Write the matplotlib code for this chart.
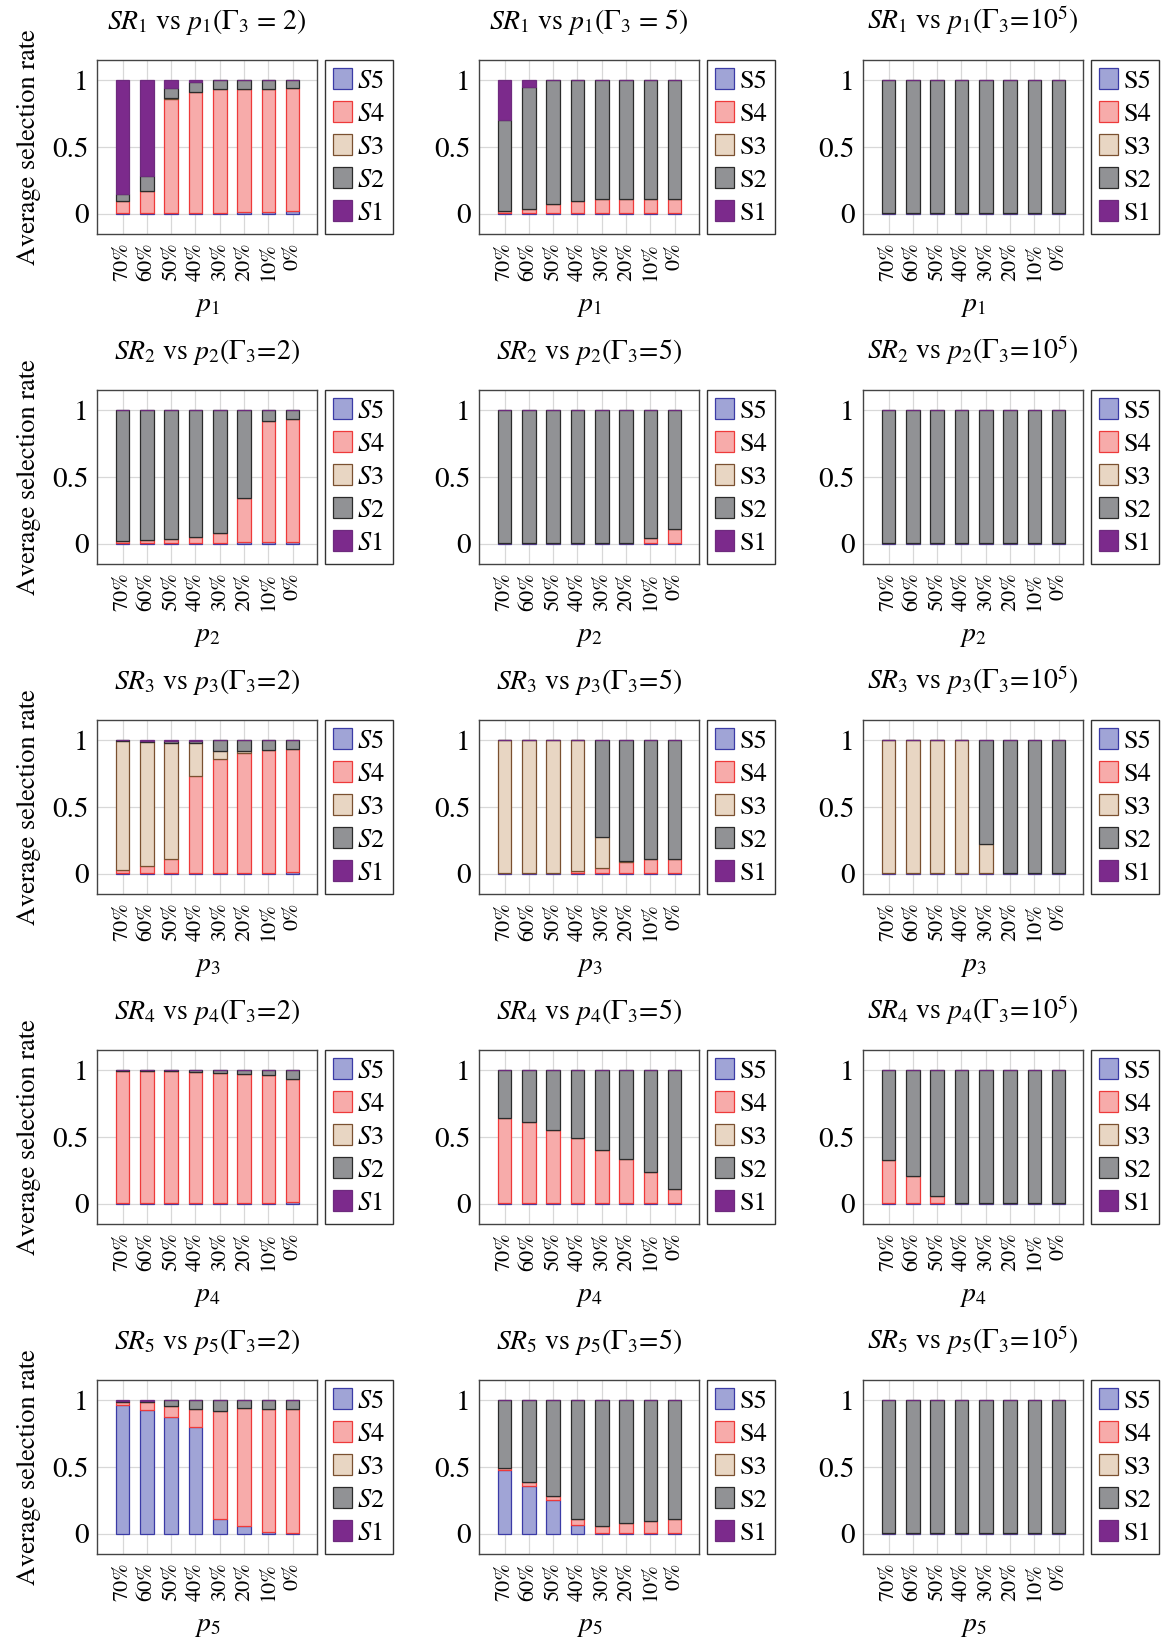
import numpy as np
import matplotlib
matplotlib.use('Agg')
import matplotlib.pyplot as plt

plt.rcParams['font.family'] = 'STIXGeneral'
plt.rcParams['mathtext.fontset'] = 'stix'

cats = ['70%', '60%', '50%', '40%', '30%', '20%', '10%', '0%']
series = ['S5', 'S4', 'S3', 'S2', 'S1']
fills = ['#a0a4d6', '#f7abaa', '#e8d6c3', '#919295', '#7c2a8c']
edges = ['#3b3ba6', '#ee3a3a', '#7a5030', '#2b2b2b', '#6e2a7e']

# each panel: [S5, S4, S3, S2, S1], stacked bottom -> top
sr1_g2 = [[0.005, 0.005, 0.005, 0.005, 0.01, 0.015, 0.015, 0.02],
          [0.095, 0.165, 0.855, 0.905, 0.92, 0.92, 0.92, 0.92],
          [0, 0, 0.005, 0, 0, 0, 0, 0],
          [0.05, 0.11, 0.075, 0.075, 0.07, 0.065, 0.065, 0.06],
          [0.85, 0.72, 0.06, 0.015, 0, 0, 0, 0]]
sr1_g5 = [[0.005] * 8,
          [0.02, 0.035, 0.07, 0.09, 0.105, 0.11, 0.11, 0.11],
          [0] * 8,
          [0.675, 0.91, 0.925, 0.905, 0.89, 0.885, 0.885, 0.885],
          [0.3, 0.05, 0, 0, 0, 0, 0, 0]]
sr1_g1e5 = [[0.005] * 8, [0] * 8, [0] * 8, [0.995] * 8, [0] * 8]

sr2_g2 = [[0.005, 0.005, 0.005, 0.005, 0.01, 0.015, 0.015, 0.015],
          [0.015, 0.025, 0.035, 0.05, 0.07, 0.33, 0.9, 0.92],
          [0] * 8,
          [0.98, 0.97, 0.96, 0.945, 0.92, 0.655, 0.085, 0.065],
          [0] * 8]
sr2_g5 = [[0.005] * 8,
          [0, 0, 0, 0, 0, 0.005, 0.04, 0.11],
          [0] * 8,
          [0.995, 0.995, 0.995, 0.995, 0.995, 0.99, 0.955, 0.885],
          [0] * 8]
sr2_g1e5 = [[0.005] * 8, [0] * 8, [0] * 8, [0.995] * 8, [0] * 8]

sr3_g2 = [[0.005, 0.005, 0.005, 0.005, 0.005, 0.01, 0.01, 0.015],
          [0.025, 0.055, 0.105, 0.725, 0.85, 0.89, 0.915, 0.92],
          [0.965, 0.925, 0.865, 0.245, 0.065, 0.015, 0, 0],
          [0.003, 0.01, 0.02, 0.02, 0.08, 0.085, 0.075, 0.065],
          [0.002, 0.005, 0.005, 0.005, 0, 0, 0, 0]]
sr3_g5 = [[0.005] * 8,
          [0, 0, 0, 0.015, 0.04, 0.085, 0.105, 0.11],
          [0.995, 0.995, 0.995, 0.98, 0.23, 0.01, 0, 0],
          [0, 0, 0, 0, 0.725, 0.9, 0.89, 0.885],
          [0] * 8]
sr3_g1e5 = [[0.005] * 8,
            [0] * 8,
            [0.995, 0.995, 0.995, 0.995, 0.215, 0.005, 0, 0],
            [0, 0, 0, 0, 0.78, 0.99, 0.995, 0.995],
            [0] * 8]

sr4_g2 = [[0.005, 0.005, 0.005, 0.005, 0.005, 0.008, 0.01, 0.015],
          [0.99, 0.985, 0.985, 0.98, 0.97, 0.962, 0.95, 0.92],
          [0, 0, 0, 0, 0.005, 0, 0, 0],
          [0.005, 0.01, 0.01, 0.015, 0.02, 0.03, 0.04, 0.065],
          [0] * 8]
sr4_g5 = [[0.005] * 8,
          [0.635, 0.605, 0.545, 0.485, 0.395, 0.33, 0.23, 0.105],
          [0] * 8,
          [0.36, 0.39, 0.45, 0.51, 0.6, 0.665, 0.765, 0.89],
          [0] * 8]
sr4_g1e5 = [[0.005] * 8,
            [0.325, 0.205, 0.055, 0.005, 0, 0, 0, 0],
            [0] * 8,
            [0.67, 0.79, 0.94, 0.99, 0.995, 0.995, 0.995, 0.995],
            [0] * 8]

sr5_g2 = [[0.965, 0.925, 0.87, 0.8, 0.115, 0.06, 0.015, 0.01],
          [0.02, 0.06, 0.085, 0.13, 0.805, 0.88, 0.915, 0.925],
          [0] * 8,
          [0.01, 0.01, 0.045, 0.07, 0.08, 0.06, 0.07, 0.065],
          [0.005, 0.005, 0, 0, 0, 0, 0, 0]]
sr5_g5 = [[0.48, 0.36, 0.255, 0.07, 0.005, 0.005, 0.005, 0.005],
          [0.015, 0.025, 0.03, 0.04, 0.055, 0.075, 0.09, 0.105],
          [0] * 8,
          [0.505, 0.615, 0.715, 0.89, 0.94, 0.92, 0.905, 0.89],
          [0] * 8]
sr5_g1e5 = [[0.005] * 8, [0] * 8, [0] * 8, [0.995] * 8, [0] * 8]

panels = [[sr1_g2, sr1_g5, sr1_g1e5],
          [sr2_g2, sr2_g5, sr2_g1e5],
          [sr3_g2, sr3_g5, sr3_g1e5],
          [sr4_g2, sr4_g5, sr4_g1e5],
          [sr5_g2, sr5_g5, sr5_g1e5]]

W, H = 1162, 1641
fig = plt.figure(figsize=(W / 100, H / 100), dpi=100)
lefts = [97, 479, 863]
tops = [60, 390, 720, 1050, 1380]
aw, ah = 220, 174
x = np.arange(len(cats))

for r in range(5):
    k = r + 1
    if r == 0:
        gams = [r'\Gamma_3\,=\,2', r'\Gamma_3\,=\,5', r'\Gamma_3\!=\!10^5']
    else:
        gams = [r'\Gamma_3\!=\!2', r'\Gamma_3\!=\!5', r'\Gamma_3\!=\!10^5']
    for c in range(3):
        ax = fig.add_axes([lefts[c] / W, 1 - (tops[r] + ah) / H, aw / W, ah / H])
        data = panels[r][c]
        bottom = np.zeros(len(cats))
        handles = []
        for i in range(5):
            vals = np.array(data[i], dtype=float)
            b = ax.bar(x, vals, 0.56, bottom=bottom, color=fills[i],
                       edgecolor=edges[i], linewidth=0.9, zorder=3)
            handles.append(b)
            bottom += vals
        ax.set_xlim(-1.05, 8.0)
        ax.set_ylim(-0.15, 1.15)
        ax.set_yticks([0, 0.5, 1])
        ax.set_yticklabels(['0', '0.5', '1'])
        ax.set_xticks(x)
        ax.set_xticklabels(cats, rotation=90, fontsize=16)
        ax.tick_params(axis='y', labelsize=21, length=0, pad=6)
        ax.tick_params(axis='x', length=0, pad=6)
        ax.grid(True, color='#d8d8d8', linewidth=0.9)
        ax.set_axisbelow(True)
        for s in ax.spines.values():
            s.set_color('#444444')
            s.set_linewidth(1.0)
        ax.set_title(r'$SR_%d$ vs $p_%d(%s)$' % (k, k, gams[c]), fontsize=20, pad=22)
        ax.set_xlabel(r'$p_%d$' % k, fontsize=20, labelpad=9)
        if c == 0:
            ax.set_ylabel('Average selection rate', fontsize=19, labelpad=8)
            labels = [r'$S5$', r'$S4$', r'$S3$', r'$S2$', r'$S1$']
        else:
            labels = series
        leg = ax.legend(handles, labels, loc='upper left', bbox_to_anchor=(1.035, 1.0),
                        borderaxespad=0, fontsize=19, fancybox=False, framealpha=1,
                        edgecolor='#333333', handlelength=0.72, handleheight=0.85,
                        handletextpad=0.22, labelspacing=0.28, borderpad=0.3)
        leg.get_frame().set_linewidth(1.0)

fig.savefig('out.png', dpi=100)
